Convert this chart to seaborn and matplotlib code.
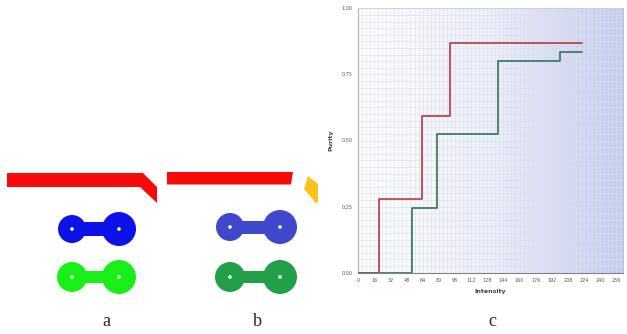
import numpy as np
import pandas as pd
import seaborn as sns
import matplotlib.pyplot as plt
from matplotlib.patches import Polygon, Circle, Rectangle
from matplotlib.ticker import MultipleLocator
from matplotlib.colors import LinearSegmentedColormap

#------------------------------------------------------------------------------
# Datos de la grafica c (curvas escalonadas)
red_x = [0, 21, 63.5, 91, 221.5]
red_y = [0, 0.278, 0.593, 0.868, 0.868]
green_x = [0, 53.5, 78.5, 139, 200, 221.5]
green_y = [0, 0.246, 0.525, 0.80, 0.834, 0.834]
x_ticks = list(range(0, 257, 16))
y_ticks = [0.0, 0.25, 0.5, 0.75, 1.0]
y_tick_labels = ['0.00', '0.25', '0.50', '0.75', '1.00']

# Paneles a y b (formas en coordenadas de pixel)
red_a = [(7, 173), (143, 173), (157, 187), (157, 203), (140, 187), (7, 187)]
red_b = [(167, 172), (293, 172), (291, 184.5), (167, 184.5)]
orange_b = [(308, 176), (318, 184), (318, 203), (315, 202), (304, 189)]
# (x izq, x der, y, radio izq, radio der, alto barra, color)
dumbbells = [
    (72, 119, 229, 14, 17, 14, '#0c12e8'),
    (72, 119, 277, 15, 17, 12, '#19ee19'),
    (230, 280, 227, 14, 17, 13, '#3f48cc'),
    (230, 280, 277, 15, 17, 12, '#22a048'),
]
panel_labels = ['a', 'b', 'c']
panel_label_x = [106, 257, 492]
#------------------------------------------------------------------------------

sns.set_style('white')
fig = plt.figure(figsize=(6.27, 3.34), dpi=100)

# Fondo en coordenadas de pixel para los paneles a y b
ax0 = fig.add_axes([0, 0, 1, 1])
ax0.set_xlim(0, 627)
ax0.set_ylim(334, 0)
ax0.axis('off')

ax0.add_patch(Polygon(red_a, closed=True, color='#f80a0a', lw=0))
ax0.add_patch(Polygon(red_b, closed=True, color='#f80a0a', lw=0))
ax0.add_patch(Polygon(orange_b, closed=True, color='#ffc21a', lw=0))
for xl, xr, yc, rl, rr, h, col in dumbbells:
    ax0.add_patch(Rectangle((xl, yc - h / 2), xr - xl, h, color=col, lw=0))
    ax0.add_patch(Circle((xl, yc), rl, color=col, lw=0))
    ax0.add_patch(Circle((xr, yc), rr, color=col, lw=0))
    ax0.add_patch(Circle((xl, yc), 1.8, color='white', lw=0))
    ax0.add_patch(Circle((xr, yc), 1.8, color='white', lw=0))

for lab, lx in zip(panel_labels, panel_label_x):
    ax0.text(lx, 322, lab, ha='center', va='center', fontsize=13,
             family='Liberation Serif')

# Grafica c
ax = fig.add_axes([358 / 627, (334 - 272.7) / 334, (623 - 358) / 627, 264.4 / 334])
xmax = 262.5
grad = np.linspace(0, 1, 256).reshape(1, -1)
cmap = LinearSegmentedColormap.from_list('bg', ['#ffffff', '#eceefa', '#c4cbf0'])
ax.imshow(grad, extent=[0, xmax, 0, 1], aspect='auto', cmap=cmap, zorder=0)

df_red = pd.DataFrame({'x': red_x, 'y': red_y})
df_green = pd.DataFrame({'x': green_x, 'y': green_y})
sns.lineplot(data=df_red, x='x', y='y', ax=ax, color='#b8484e', lw=1.3,
             drawstyle='steps-post', zorder=3)
sns.lineplot(data=df_green, x='x', y='y', ax=ax, color='#3d7e68', lw=1.3,
             drawstyle='steps-post', zorder=3)

ax.set_xlim(0, xmax)
ax.set_ylim(0, 1)
ax.set_xticks(x_ticks)
ax.set_yticks(y_ticks)
ax.set_yticklabels(y_tick_labels)
ax.xaxis.set_minor_locator(MultipleLocator(4))
ax.yaxis.set_minor_locator(MultipleLocator(0.025))
ax.grid(which='both', color='#dcdee8', lw=0.4, zorder=1)
ax.set_axisbelow(False)
ax.tick_params(which='both', direction='in', length=2.5, width=0.7, colors='#555555',
               labelsize=3.5, pad=4)
for s in ['left', 'bottom']:
    ax.spines[s].set_color('#808080')
    ax.spines[s].set_linewidth(0.8)
for s in ['top', 'right']:
    ax.spines[s].set_color('#b0b5d6')
    ax.spines[s].set_linewidth(0.6)
ax.set_xlabel('Intensity', fontsize=4.5, fontweight='bold', color='#444444', labelpad=4)
ax.set_ylabel('Purity', fontsize=4.5, fontweight='bold', color='#444444', labelpad=6)

plt.savefig('out.png', dpi=100)
